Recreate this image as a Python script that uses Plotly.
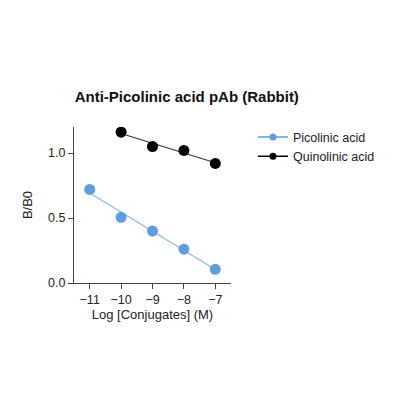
import numpy as np
import plotly.graph_objects as go

# log concentration of conjugates (M)
pico_x = [-11, -10, -9, -8, -7]
pico_y = [0.72, 0.505, 0.40, 0.26, 0.105]
quino_x = [-10, -9, -8, -7]
quino_y = [1.16, 1.05, 1.02, 0.92]
x_ticks = [-11, -10, -9, -8, -7]
y_ticks = [0.0, 0.5, 1.0]

blue = '#5f9de0'
black = '#000000'


def fitLine(xs, ys):
    slope, icept = np.polyfit(xs, ys, 1)
    xs = np.array([min(xs), max(xs)])
    return xs, slope * xs + icept


fig = go.Figure()

for name, xs, ys, col, lcol in [("Picolinic acid", pico_x, pico_y, blue, '#8ab8e8'),
                                ("Quinolinic acid", quino_x, quino_y, black, '#333333')]:
    fx, fy = fitLine(xs, ys)
    fig.add_trace(go.Scatter(x=fx, y=fy, mode="lines", showlegend=False,
                             line=dict(color=lcol, width=1.2)))
    fig.add_trace(go.Scatter(x=xs, y=ys, mode="markers", showlegend=False,
                             marker=dict(color=col, size=11)))
    # legend entry only
    fig.add_trace(go.Scatter(x=[None], y=[None], mode="lines+markers", name=name,
                             line=dict(color=col, width=1.5),
                             marker=dict(color=col, size=7)))

axis_style = dict(showgrid=False, zeroline=False, showline=True, linecolor='#444444',
                  linewidth=1, ticks='outside', ticklen=5, tickcolor='#444444',
                  tickfont=dict(size=12.5, color='#222222'))

fig.update_xaxes(range=[-11.5, -6.5], tickvals=x_ticks, **axis_style,
                 title=dict(text="Log [Conjugates] (M)", font=dict(size=13, color='#222222'), standoff=2))
fig.update_yaxes(range=[0, 1.2], tickvals=y_ticks, tickformat='.1f', **axis_style,
                 title=dict(text="B/B0", font=dict(size=13, color='#222222'), standoff=12))

fig.update_layout(
    width=400, height=400,
    font=dict(family="Liberation Sans, Arial, sans-serif"),
    title=dict(text="<b>Anti-Picolinic acid pAb (Rabbit)</b>", x=0.447, xanchor='center',
               y=0.7775, yanchor='middle', font=dict(size=15, color='#111111')),
    margin=dict(l=66, r=177, t=119, b=125),
    plot_bgcolor='white', paper_bgcolor='white',
    legend=dict(x=1.14, y=1.03, xanchor='left', yanchor='top', bgcolor='rgba(0,0,0,0)',
                font=dict(size=12.5, color='#222222'), itemwidth=30, tracegroupgap=0),
)

fig.write_html("out.html")
